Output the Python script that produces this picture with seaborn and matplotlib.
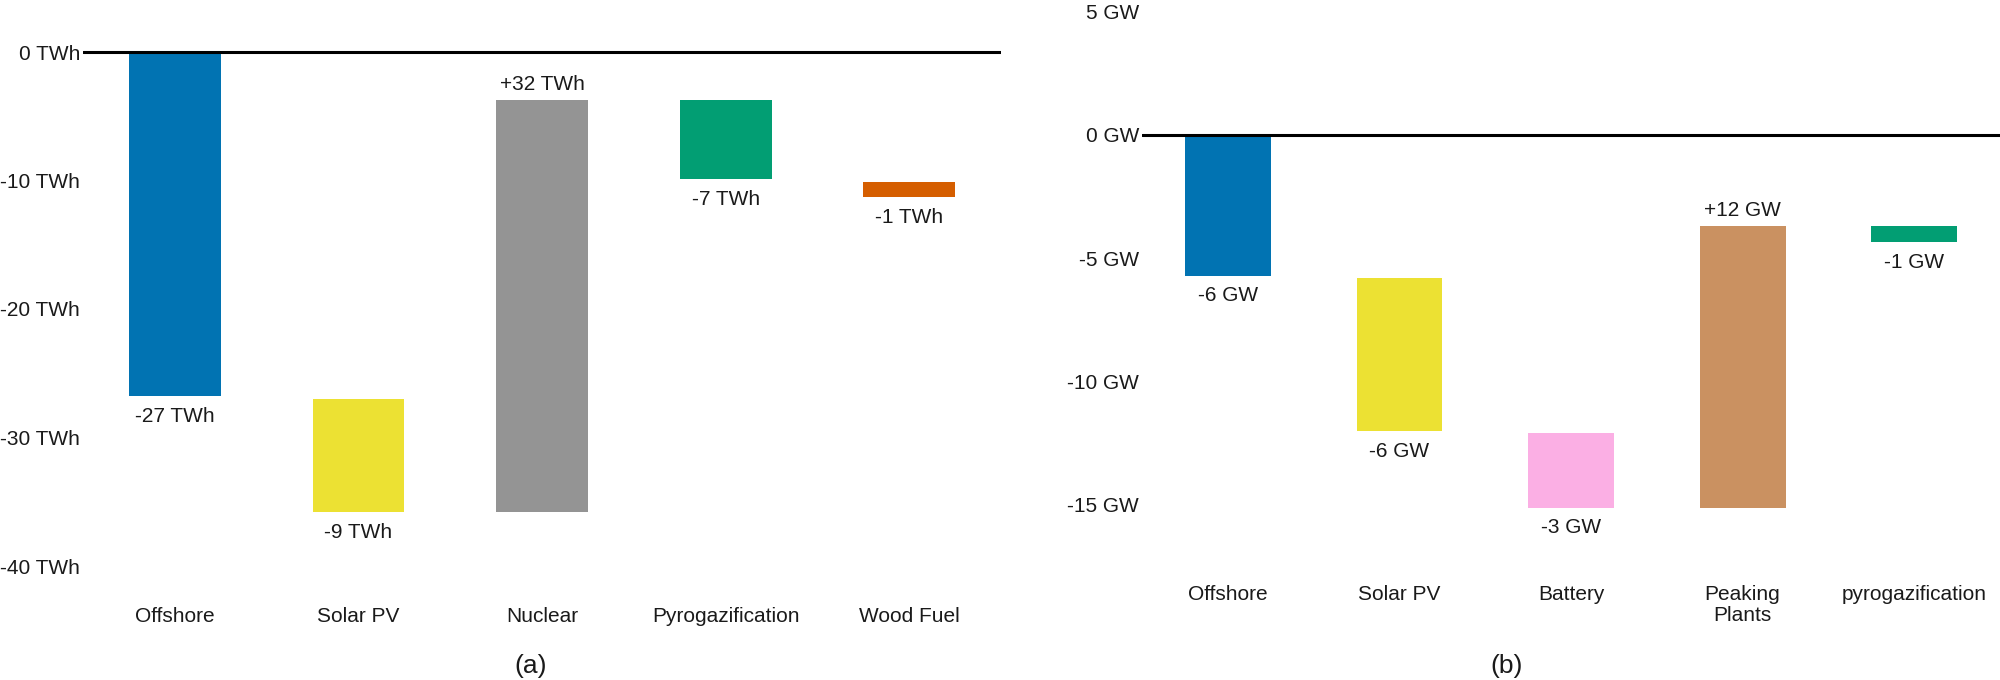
import matplotlib
matplotlib.use("Agg")
import matplotlib.pyplot as plt
import seaborn as sns
import pandas as pd

# ---- data: panel (a) energy ----
categories_a = ["Offshore", "Solar PV", "Nuclear", "Pyrogazification", "Wood Fuel"]
start_a = [0.0, -27.0, -35.8, -3.7, -10.15]
change_a = [-26.8, -8.8, 32.1, -6.2, -1.15]
labels_a = ["-27 TWh", "-9 TWh", "+32 TWh", "-7 TWh", "-1 TWh"]
yticks_a = [0, -10, -20, -30, -40]
yticklabels_a = ["0 TWh", "-10 TWh", "-20 TWh", "-30 TWh", "-40 TWh"]

# ---- data: panel (b) capacity ----
categories_b = ["Offshore", "Solar PV", "Battery", "Peaking\nPlants", "pyrogazification"]
start_b = [0.0, -5.8, -12.1, -15.12, -3.68]
change_b = [-5.71, -6.22, -3.02, 11.44, -0.67]
labels_b = ["-6 GW", "-6 GW", "-3 GW", "+12 GW", "-1 GW"]
yticks_b = [5, 0, -5, -10, -15]
yticklabels_b = ["5 GW", "0 GW", "-5 GW", "-10 GW", "-15 GW"]

colors_a = ["#0173B2", "#ECE133", "#949494", "#029E73", "#D55E00"]
colors_b = ["#0173B2", "#ECE133", "#FBAFE4", "#CA9161", "#029E73"]

sns.set_style("white")
plt.rcParams["font.family"] = ["Liberation Sans", "DejaVu Sans"]
FS = 15
TXT = "#1a1a1a"

fig = plt.figure(figsize=(20, 6.8), dpi=100)
W, H = 2000, 680


def px_axes(l, r, t, b):
    return fig.add_axes([l / W, 1 - b / H, (r - l) / W, (b - t) / H])


def waterfall(ax, cats, starts, changes, labels, colors, ylim, yticks, yticklabels):
    df = pd.DataFrame({"cat": cats, "start": starts, "change": changes})
    for i, row in df.iterrows():
        sns.barplot(data=df.iloc[[i]], x="cat", y="change", order=cats,
                    color=colors[i], bottom=row["start"], width=0.5,
                    saturation=1, ax=ax, linewidth=0)
    ax.axhline(0, color="black", lw=2.2, zorder=5)
    for i, row in df.iterrows():
        end = row["start"] + row["change"]
        off = 15 if row["change"] >= 0 else -20
        ax.annotate(labels[i], (i, end), xytext=(0, off), textcoords="offset pixels",
                    ha="center", va="center", fontsize=FS, color=TXT)
    ax.set_ylim(*ylim)
    ax.set_xlim(-0.5, len(cats) - 0.5)
    ax.set_yticks(yticks)
    ax.set_yticklabels(yticklabels)
    ax.set_xlabel("")
    ax.set_ylabel("")
    for s in ax.spines.values():
        s.set_visible(False)
    ax.tick_params(axis="y", length=0, pad=2, labelsize=FS, labelcolor=TXT)
    ax.tick_params(axis="x", length=0, pad=12, labelsize=FS, labelcolor=TXT)
    for t in ax.get_xticklabels():
        t.set_verticalalignment("top")
        t.set_linespacing(1.18)


ax_a = px_axes(83, 1001, 0, 590)
waterfall(ax_a, categories_a, start_a, change_a, labels_a, colors_a,
          (-(590 - 52) / 12.85, 52 / 12.85), yticks_a, yticklabels_a)

ax_b = px_axes(1142, 2000, 0, 568)
waterfall(ax_b, categories_b, start_b, change_b, labels_b, colors_b,
          (-(568 - 135) / 24.65, 135 / 24.65), yticks_b, yticklabels_b)

fig.text(531 / W, 1 - 666 / H, "(a)", ha="center", va="center", fontsize=19, color=TXT)
fig.text(1507 / W, 1 - 666 / H, "(b)", ha="center", va="center", fontsize=19, color=TXT)

fig.savefig("out.png", dpi=100)
